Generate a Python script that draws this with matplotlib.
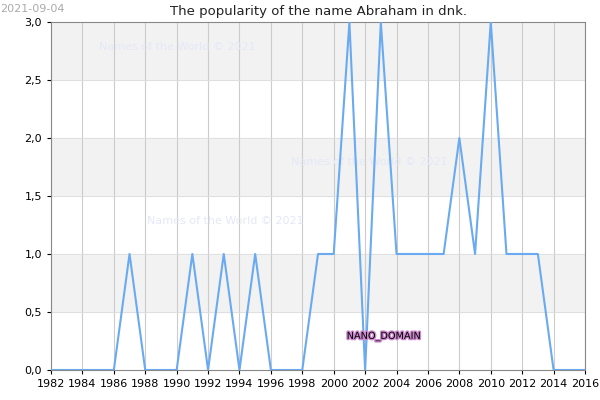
import matplotlib.pyplot as plt
import matplotlib.patheffects as pe

years = list(range(1982, 2017))
counts = [0, 0, 0, 0, 0, 1, 0, 0, 0, 1, 0, 1, 0, 1, 0, 0, 0, 1, 1, 3,
          0, 3, 1, 1, 1, 1, 2, 1, 3, 1, 1, 1, 0, 0, 0]

fig = plt.figure(figsize=(6, 4), dpi=100)
ax = fig.add_axes([0.085, 0.075, 0.89, 0.87])

for lo in [0.5, 1.5, 2.5]:
    ax.axhspan(lo, lo + 0.5, color='#f2f2f2', zorder=0)
ax.plot(years, counts, color='#6aaaf0', lw=1.5, zorder=3)

ax.set_xlim(1982, 2016)
ax.set_ylim(0, 3)
ax.set_xticks(range(1982, 2017, 2))
ax.set_yticks([0, 0.5, 1, 1.5, 2, 2.5, 3])
ax.set_yticklabels(['0,0', '0,5', '1,0', '1,5', '2,0', '2,5', '3,0'])
ax.tick_params(labelsize=8, length=3)
ax.grid(axis='x', color='#cccccc', lw=0.8)
ax.grid(axis='y', color='#dddddd', lw=0.6)
ax.set_axisbelow(True)
for s in ax.spines.values():
    s.set_color('#888888')

ax.set_title('The popularity of the name Abraham in dnk.', fontsize=9.5,
             pad=5, color='#222222')
fig.text(0.0, 0.99, '2021-09-04', fontsize=8, color='#aaaaaa', va='top')

wm = dict(fontsize=8, color='#e4e8f8', transform=ax.transAxes, zorder=1)
ax.text(0.09, 0.92, 'Names of the World © 2021', **wm)
ax.text(0.45, 0.59, 'Names of the World © 2021', **wm)
ax.text(0.18, 0.42, 'Names of the World © 2021', **wm)

ax.text(2003.2, 0.29, 'NANO_DOMAIN', fontsize=7, ha='center', va='center',
        color='black', zorder=4,
        path_effects=[pe.withStroke(linewidth=2, foreground='#cc88cc')])

fig.savefig('out.png')
